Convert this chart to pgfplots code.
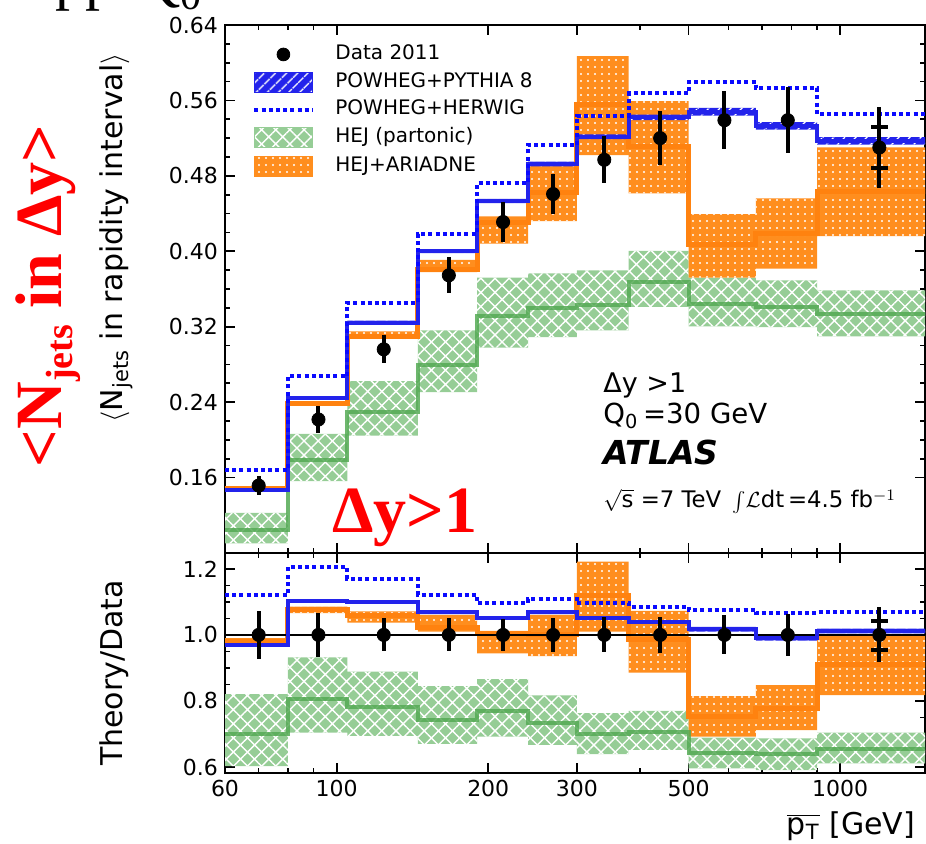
\documentclass[border=0pt]{standalone}
\usepackage{fontspec}
\setmainfont{DejaVu Sans}
\newfontfamily\timesfont{Liberation Serif}
\usepackage{pgfplots}
\pgfplotsset{compat=1.18}
\usepackage{pgfplotstable}
\usepgfplotslibrary{fillbetween}
\usetikzlibrary{patterns,patterns.meta}

\definecolor{pyblue}{RGB}{35,35,235}
\definecolor{hwblue}{RGB}{10,10,255}
\definecolor{hejfill}{RGB}{150,205,150}
\definecolor{hejline}{RGB}{85,170,85}
\definecolor{ariafill}{RGB}{255,142,30}
\definecolor{arialine}{RGB}{255,130,15}
\definecolor{atlasred}{RGB}{255,0,0}

% upper panel: bin left edges, last row repeated at the upper edge
\pgfplotstableread{
x     py     pylo   pyhi   hw     hejc   hejlo  hejhi  ariac  arialo ariahi
60    0.1470 0.1450 0.1490 0.1685 0.1045 0.0903 0.1225 0.1480 0.1465 0.1500
80    0.2443 0.2423 0.2463 0.2673 0.1788 0.1561 0.2064 0.2385 0.2365 0.2410
105   0.3243 0.3220 0.3265 0.3455 0.2294 0.2046 0.2623 0.3100 0.3075 0.3150
145   0.4000 0.3980 0.4020 0.4186 0.2797 0.2506 0.3161 0.3810 0.3780 0.3910
190   0.4533 0.4510 0.4555 0.4723 0.3313 0.2977 0.3720 0.4300 0.4080 0.4370
240   0.4925 0.4900 0.4950 0.5126 0.3400 0.3089 0.3765 0.4620 0.4320 0.4920
300   0.5214 0.5190 0.5240 0.5437 0.3427 0.3161 0.3798 0.5560 0.5020 0.6070
380   0.5420 0.5390 0.5450 0.5674 0.3674 0.3409 0.4003 0.5115 0.4613 0.5593
500   0.5480 0.5440 0.5520 0.5798 0.3445 0.3204 0.3720 0.4073 0.3720 0.4393
680   0.5327 0.5290 0.5370 0.5727 0.3409 0.3196 0.3692 0.4187 0.3816 0.4560
900   0.5170 0.5130 0.5210 0.5455 0.3331 0.3097 0.3586 0.4630 0.4160 0.5101
1500  0.5170 0.5130 0.5210 0.5455 0.3331 0.3097 0.3586 0.4630 0.4160 0.5101
}\tabupper

% ratio panel
\pgfplotstableread{
x     py     pylo   pyhi   hw     hejc   hejlo  hejhi  ariac  arialo ariahi
60    0.970  0.965  0.975  1.121  0.700  0.603  0.821  0.980  0.970  0.990
80    1.103  1.098  1.108  1.205  0.805  0.704  0.932  1.078  1.066  1.086
105   1.099  1.094  1.104  1.169  0.781  0.694  0.889  1.059  1.037  1.071
145   1.068  1.063  1.073  1.121  0.742  0.670  0.845  1.023  1.010  1.061
190   1.051  1.046  1.056  1.096  0.770  0.692  0.866  1.005  0.944  1.012
240   1.068  1.063  1.073  1.109  0.734  0.667  0.817  1.000  0.936  1.061
300   1.051  1.046  1.056  1.096  0.699  0.639  0.763  1.118  1.010  1.222
380   1.040  1.035  1.045  1.086  0.707  0.652  0.770  0.985  0.886  1.073
500   1.017  1.010  1.024  1.076  0.643  0.596  0.689  0.753  0.692  0.815
680   0.990  0.983  0.997  1.066  0.639  0.591  0.687  0.778  0.712  0.848
900   1.012  1.005  1.019  1.069  0.655  0.611  0.704  0.909  0.818  1.000
1500  1.012  1.005  1.019  1.069  0.655  0.611  0.704  0.909  0.818  1.000
}\tabratio

% data
\pgfplotstableread{
x     y       e      one  er
70    0.1515  0.010  1.0  0.073
92    0.2216  0.014  1.0  0.066
124   0.2960  0.015  1.0  0.050
167   0.3745  0.019  1.0  0.050
214   0.4310  0.021  1.0  0.048
269   0.4607  0.021  1.0  0.052
340   0.4970  0.025  1.0  0.053
439   0.5200  0.029  1.0  0.055
589   0.5390  0.031  1.0  0.059
787   0.5390  0.035  1.0  0.063
1196  0.5100  0.043  1.0  0.083
}\tabdata

\begin{document}
\begin{tikzpicture}
% ---------------- upper panel ----------------
\begin{axis}[xmode=log, xmin=60, xmax=1474, width=350pt, height=264pt, scale only axis,
  at={(112.5pt,145.5pt)}, anchor=south west,
  xtick={60,100,200,300,500,1000}, xticklabels={},
  minor xtick={70,80,90,400,600,700,800,900},
  tick align=inside, major tick length=5pt, minor tick length=2.5pt,
  tick style={line width=0.8pt, black},
  axis line style={line width=1pt},
  tick label style={font=\fontsize{11}{13}\selectfont},
  /pgf/number format/assume math mode=true,
  ymin=0.08, ymax=0.64, ytick={0.16,0.24,0.32,0.40,0.48,0.56,0.64}, minor y tick num=3,
  yticklabel style={/pgf/number format/.cd, fixed, fixed zerofill, precision=2},
  ylabel={$\langle$N\textsubscript{jets} in rapidity interval$\rangle$},
  ylabel style={at={(axis description cs:-0.147,0.597)}, anchor=base, font=\fontsize{15}{18}\selectfont},
  legend style={at={(axis description cs:0.0386,0.962)}, anchor=north west, draw=none, fill=none,
     font=\fontsize{10}{12}\selectfont, inner sep=0pt, row sep=4.1pt,
     nodes={inner sep=0pt, text height=7pt, text depth=2pt},
     /tikz/every odd column/.append style={column sep=10.5pt}},
  legend cell align=left,
]
\addlegendimage{legend image code/.code={\draw[only marks, mark=*, mark size=3.2pt, black, mark repeat=2, mark phase=2] plot coordinates {(0pt,0pt)(14.5pt,0pt)(29pt,0pt)};}}
\addlegendentry{Data 2011}
\addlegendimage{legend image code/.code={\fill[pyblue, postaction={pattern={Lines[angle=45,distance=4pt,line width=0.7pt]}, pattern color=white}] (0pt,-5pt) rectangle (29pt,5pt);}}
\addlegendentry{POWHEG+PYTHIA 8}
\addlegendimage{legend image code/.code={\draw[hwblue, line width=2pt, dash pattern=on 2pt off 1.6pt] (0pt,0pt) -- (29pt,0pt);}}
\addlegendentry{POWHEG+HERWIG}
\addlegendimage{legend image code/.code={\fill[hejfill, postaction={pattern={Hatch[angle=45,distance=5pt,line width=0.7pt]}, pattern color=white}] (0pt,-5pt) rectangle (29pt,5pt);}}
\addlegendentry{HEJ (partonic)}
\addlegendimage{legend image code/.code={\fill[ariafill, postaction={pattern={Dots[distance=3.5pt,radius=0.55pt]}, pattern color=white}] (0pt,-5pt) rectangle (29pt,5pt);}}
\addlegendentry{HEJ+ARIADNE}

\addplot[const plot, draw=none, forget plot, name path=uhejhi] table[x=x,y=hejhi]{\tabupper};
\addplot[const plot, draw=none, forget plot, name path=uhejlo] table[x=x,y=hejlo]{\tabupper};
\addplot[fill=hejfill, draw=none, forget plot, postaction={pattern={Hatch[angle=45,distance=5pt,line width=0.7pt]}, pattern color=white}] fill between[of=uhejhi and uhejlo];
\addplot[const plot, draw=none, forget plot, name path=uahi] table[x=x,y=ariahi]{\tabupper};
\addplot[const plot, draw=none, forget plot, name path=ualo] table[x=x,y=arialo]{\tabupper};
\addplot[fill=ariafill, draw=none, forget plot, postaction={pattern={Dots[distance=3.5pt,radius=0.55pt]}, pattern color=white}] fill between[of=uahi and ualo];
\addplot[const plot, draw=none, forget plot, name path=upyhi] table[x=x,y=pyhi]{\tabupper};
\addplot[const plot, draw=none, forget plot, name path=upylo] table[x=x,y=pylo]{\tabupper};
\addplot[fill=pyblue, draw=none, forget plot, postaction={pattern={Lines[angle=45,distance=4pt,line width=0.7pt]}, pattern color=white}] fill between[of=upyhi and upylo];

\addplot[const plot, hejline, line width=2pt, opacity=0.85, forget plot] table[x=x,y=hejc]{\tabupper};
\addplot[const plot, arialine, line width=2.5pt, forget plot] table[x=x,y=ariac]{\tabupper};
\addplot[const plot, pyblue, line width=2pt, forget plot] table[x=x,y=py]{\tabupper};
\addplot[const plot, hwblue, line width=2pt, dash pattern=on 2pt off 1.6pt, forget plot] table[x=x,y=hw]{\tabupper};

\addplot[only marks, mark=*, mark size=3.3pt, black, forget plot,
    error bars/.cd, y dir=both, y explicit, error mark=none,
    error bar style={line width=2pt, black}] table[x=x,y=y,y error=e]{\tabdata};
\addplot[only marks, mark=-, mark size=4.2pt, line width=2pt, black, forget plot] coordinates {(1196,0.532)(1196,0.488)};
\end{axis}

% ---------------- ratio panel ----------------
\begin{axis}[xmode=log, xmin=60, xmax=1474, width=350pt, height=110pt, scale only axis,
  at={(112.5pt,35.5pt)}, anchor=south west,
  xtick={60,100,200,300,500,1000}, xticklabels={60,100,200,300,500,1000},
  minor xtick={70,80,90,400,600,700,800,900},
  tick align=inside, major tick length=5pt, minor tick length=2.5pt,
  tick style={line width=0.8pt, black},
  axis line style={line width=1pt},
  tick label style={font=\fontsize{11}{13}\selectfont},
  /pgf/number format/assume math mode=true,
  ymin=0.582, ymax=1.248, ytick={0.6,0.8,1.0,1.2}, minor y tick num=3,
  yticklabel style={/pgf/number format/.cd, fixed, fixed zerofill, precision=1},
  ylabel={Theory/Data},
  ylabel style={at={(axis description cs:-0.147,0.4545)}, anchor=base, font=\fontsize{15}{18}\selectfont},
  xlabel={$\overline{\mathrm{p}_{\mathrm{T}}}$ [GeV]},
  xlabel style={at={(axis description cs:1,0)}, anchor=base east, yshift=-31pt, xshift=-1.5pt, font=\fontsize{15}{18}\selectfont},
]
\addplot[const plot, draw=none, forget plot, name path=rhejhi] table[x=x,y=hejhi]{\tabratio};
\addplot[const plot, draw=none, forget plot, name path=rhejlo] table[x=x,y=hejlo]{\tabratio};
\addplot[fill=hejfill, draw=none, forget plot, postaction={pattern={Hatch[angle=45,distance=5pt,line width=0.7pt]}, pattern color=white}] fill between[of=rhejhi and rhejlo];
\addplot[const plot, draw=none, forget plot, name path=rahi] table[x=x,y=ariahi]{\tabratio};
\addplot[const plot, draw=none, forget plot, name path=ralo] table[x=x,y=arialo]{\tabratio};
\addplot[fill=ariafill, draw=none, forget plot, postaction={pattern={Dots[distance=3.5pt,radius=0.55pt]}, pattern color=white}] fill between[of=rahi and ralo];
\addplot[const plot, draw=none, forget plot, name path=rpyhi] table[x=x,y=pyhi]{\tabratio};
\addplot[const plot, draw=none, forget plot, name path=rpylo] table[x=x,y=pylo]{\tabratio};
\addplot[fill=pyblue, draw=none, forget plot, postaction={pattern={Lines[angle=45,distance=4pt,line width=0.7pt]}, pattern color=white}] fill between[of=rpyhi and rpylo];

\addplot[const plot, hejline, line width=2pt, opacity=0.85, forget plot] table[x=x,y=hejc]{\tabratio};
\addplot[const plot, arialine, line width=2.5pt, forget plot] table[x=x,y=ariac]{\tabratio};
\addplot[black, line width=1pt, forget plot] coordinates {(60,1.0)(1500,1.0)};
\addplot[const plot, pyblue, line width=2pt, forget plot] table[x=x,y=py]{\tabratio};
\addplot[const plot, hwblue, line width=2pt, dash pattern=on 2pt off 1.6pt, forget plot] table[x=x,y=hw]{\tabratio};

\addplot[only marks, mark=*, mark size=3.3pt, black, forget plot,
    error bars/.cd, y dir=both, y explicit, error mark=none,
    error bar style={line width=2pt, black}] table[x=x,y=one,y error=er]{\tabdata};
\addplot[only marks, mark=-, mark size=4.2pt, line width=2pt, black, forget plot] coordinates {(1196,1.043)(1196,0.955)};
\end{axis}

% ---------------- annotations ----------------
\node[anchor=base west, inner sep=0pt, font=\fontsize{13.5}{16}\selectfont] at (301.5pt,225.5pt) {Δy >1};
\node[anchor=base west, inner sep=0pt, font=\fontsize{13.8}{16}\selectfont] at (301.5pt,210pt) {Q\textsubscript{0}\,=30 GeV};
\node[anchor=base west, inner sep=0pt, font=\fontsize{16.5}{18}\selectfont\bfseries\itshape] at (301.5pt,189.5pt) {ATLAS};
\node[anchor=base west, inner sep=0pt, font=\fontsize{11.4}{13}\selectfont] at (301.5pt,168pt) {$\sqrt{\mbox{s}}$ =7 TeV \,$\int\!\mathcal{L}$dt\,=4.5 fb$^{-1}$};

\node[rotate=90, anchor=base, text=atlasred, font=\timesfont\bfseries\fontsize{33}{36}\selectfont] at (31pt,274pt) {<N\raisebox{-5pt}{\fontsize{19}{19}\selectfont jets} in Δy>};
\node[anchor=base, text=atlasred, font=\timesfont\bfseries\fontsize{33}{36}\selectfont] at (202.5pt,155.5pt) {Δy>1};
\node[anchor=base west, font=\timesfont\fontsize{30}{30}\selectfont] at (24pt,422.5pt) {pp\hspace{11pt}Q\textsubscript{0}};

\pgfresetboundingbox
\path[use as bounding box] (0pt,0pt) rectangle (463pt,422pt);
\end{tikzpicture}
\end{document}
